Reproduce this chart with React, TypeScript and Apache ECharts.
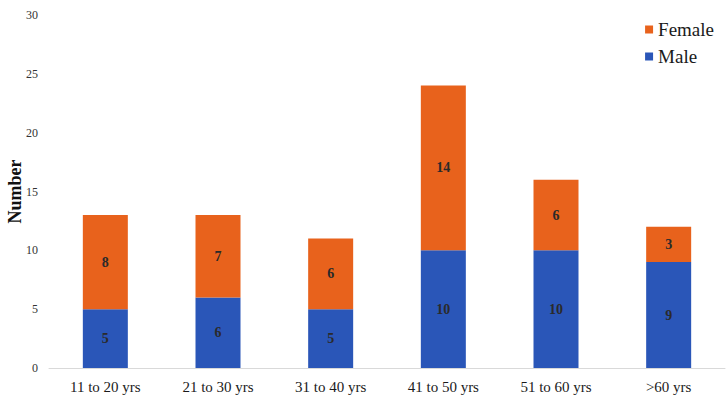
import React, { useEffect, useRef } from "react";
import * as echarts from "echarts";

const categories = ["11 to 20 yrs", "21 to 30 yrs", "31 to 40 yrs", "41 to 50 yrs", "51 to 60 yrs", ">60 yrs"];
const maleValues = [5, 6, 5, 10, 10, 9];
const femaleValues = [8, 7, 6, 14, 6, 3];
const yTicks = [0, 5, 10, 15, 20, 25, 30];

const FONT = "Liberation Serif";

export default function App() {
  const ref = useRef<HTMLDivElement>(null);
  useEffect(() => {
    if (!ref.current) return;
    const chart = echarts.init(ref.current, null, { renderer: "svg" });
    const labelStyle = {
      show: true,
      position: "inside" as const,
      color: "#2a2a2a",
      fontFamily: FONT,
      fontSize: 14,
      fontWeight: "bold" as const,
    };
    chart.setOption({
      animation: false,
      backgroundColor: "#ffffff",
      grid: { left: 49, right: 2, top: 15, bottom: 34, containLabel: false, outerBoundsMode: "none" },
      legend: {
        data: ["Female", "Male"],
        orient: "vertical",
        right: 8,
        top: 15,
        itemWidth: 8,
        itemHeight: 8,
        itemGap: 8,
        icon: "rect",
        textStyle: { fontFamily: FONT, fontSize: 19, color: "#1a1a1a" },
      },
      xAxis: {
        type: "category",
        data: categories,
        axisLine: { show: true, lineStyle: { color: "#d9d9d9", width: 1 } },
        axisTick: { show: false },
        axisLabel: { fontFamily: FONT, fontSize: 15, color: "#1a1a1a", margin: 11 },
      },
      yAxis: {
        type: "value",
        min: yTicks[0],
        max: yTicks[yTicks.length - 1],
        interval: 5,
        name: "Number",
        nameLocation: "middle",
        nameGap: 25,
        nameMoveOverlap: false,
        nameTextStyle: { fontFamily: FONT, fontSize: 18, fontWeight: "bold", color: "#111" },
        axisLine: { show: false },
        axisTick: { show: false },
        splitLine: { show: false },
        axisLabel: { fontFamily: FONT, fontSize: 12, color: "#333", margin: 11 },
      },
      series: [
        {
          name: "Male",
          type: "bar",
          stack: "total",
          data: maleValues,
          barWidth: 45,
          itemStyle: { color: "#2a56b8" },
          label: labelStyle,
        },
        {
          name: "Female",
          type: "bar",
          stack: "total",
          data: femaleValues,
          barWidth: 45,
          itemStyle: { color: "#e8621c" },
          label: labelStyle,
        },
      ],
    });
    return () => chart.dispose();
  }, []);
  return <div ref={ref} style={{ width: 727, height: 402, position: "absolute", left: 0, top: 0 }} />;
}
